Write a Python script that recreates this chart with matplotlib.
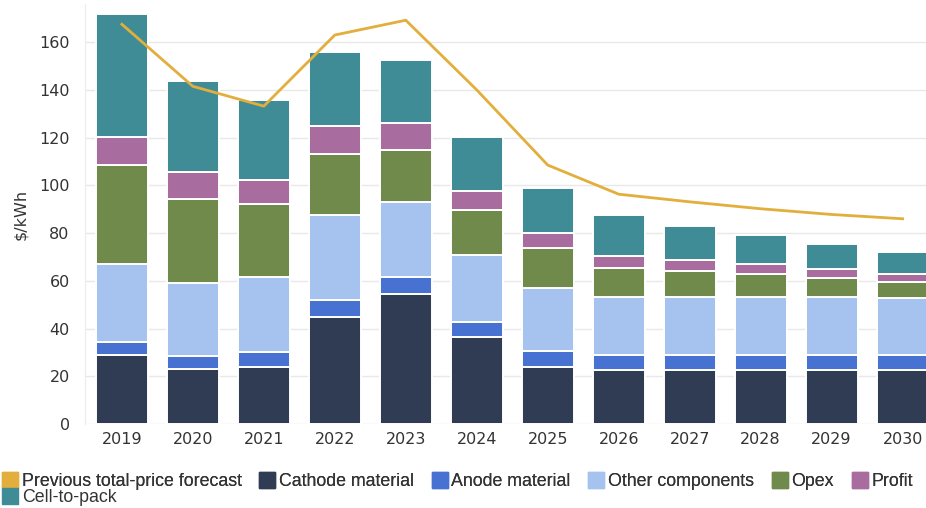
import matplotlib.pyplot as plt
from matplotlib.lines import Line2D
import numpy as np

# データ
years = ["2019", "2020", "2021", "2022", "2023", "2024",
         "2025", "2026", "2027", "2028", "2029", "2030"]
cathode = [29.0, 23.0, 24.0, 45.0, 54.5, 36.5, 24.0, 22.5, 22.5, 22.5, 22.5, 22.5]
anode = [5.5, 5.5, 6.3, 7.0, 7.0, 6.4, 6.7, 6.5, 6.5, 6.5, 6.5, 6.5]
other = [32.5, 30.5, 31.4, 35.5, 31.5, 27.9, 26.1, 24.3, 24.3, 24.3, 24.3, 24.0]
opex = [41.5, 35.3, 30.7, 25.6, 22.0, 18.8, 16.8, 11.9, 10.9, 9.5, 7.7, 6.6]
profit = [11.8, 11.1, 9.8, 11.7, 11.0, 8.0, 6.3, 5.2, 4.5, 4.2, 3.8, 3.2]
cell_to_pack = [51.7, 38.4, 33.5, 30.9, 26.5, 22.7, 19.2, 17.1, 14.2, 12.2, 10.6, 9.4]
prev_forecast = [167.5, 141.5, 133.2, 163.0, 169.2, 140.0, 108.5, 96.3, 93.1, 90.2, 87.8, 86.0]

series = [
    ("Cathode material", cathode, "#2f3c54"),
    ("Anode material", anode, "#4772d2"),
    ("Other components", other, "#a5c3ee"),
    ("Opex", opex, "#6f8a4b"),
    ("Profit", profit, "#a86c9e"),
    ("Cell-to-pack", cell_to_pack, "#3f8c97"),
]
line_color = "#e2ae3c"

fig = plt.figure(figsize=(9.26, 5.08), dpi=100)
ax = fig.add_axes([85 / 926, 1 - 424 / 508, 1 - 85 / 926, 420 / 508])

x = np.arange(len(years))
bottom = np.zeros(len(years))
for name, vals, color in series:
    ax.bar(x, vals, width=0.73, bottom=bottom, color=color,
           edgecolor="white", linewidth=1.4, zorder=2)
    bottom += np.array(vals)

ax.plot(x, prev_forecast, color=line_color, linewidth=2.0, zorder=3)

ax.set_xlim(-0.52, 11.33)
ax.set_ylim(0, 176)
ax.set_yticks(range(0, 161, 20))
ax.set_xticks(x)
ax.set_xticklabels(years)
ax.tick_params(axis="both", length=0, labelsize=11.5, colors="#333333")
ax.tick_params(axis="y", pad=11)
ax.tick_params(axis="x", pad=6)
ax.grid(axis="y", color="#e8e8e8", linewidth=1.0, zorder=0)
for s in ["top", "right", "bottom"]:
    ax.spines[s].set_visible(False)
ax.spines["left"].set_color("#ececec")
ax.set_ylabel("$/kWh", fontsize=11.5, color="#333333", labelpad=8)

# 凡例
def handle(c):
    return Line2D([], [], marker="s", linestyle="none", markersize=11.5,
                  markerfacecolor=c, markeredgecolor=c)

font = {"family": "Liberation Sans", "size": 12.8}
h1 = [handle(line_color)] + [handle(c) for _, _, c in series[:5]]
l1 = ["Previous total-price forecast"] + [n for n, _, _ in series[:5]]
leg1 = fig.legend(h1, l1, ncol=6, loc="center left",
                  bbox_to_anchor=(3 / 926, 1 - 482 / 508), frameon=False,
                  handlelength=0.8, handletextpad=0.25, columnspacing=1.05,
                  borderpad=0.0, borderaxespad=0.0, prop=font)
for t in leg1.get_texts():
    t.set_color("#333333")
leg2 = fig.legend([handle(series[5][2])], [series[5][0]], loc="center left",
                  bbox_to_anchor=(3 / 926, 1 - 498 / 508), frameon=False,
                  handlelength=0.8, handletextpad=0.25,
                  borderpad=0.0, borderaxespad=0.0, prop=font)
for t in leg2.get_texts():
    t.set_color("#333333")
fig.add_artist(leg1)

fig.savefig("out.png", dpi=100)
